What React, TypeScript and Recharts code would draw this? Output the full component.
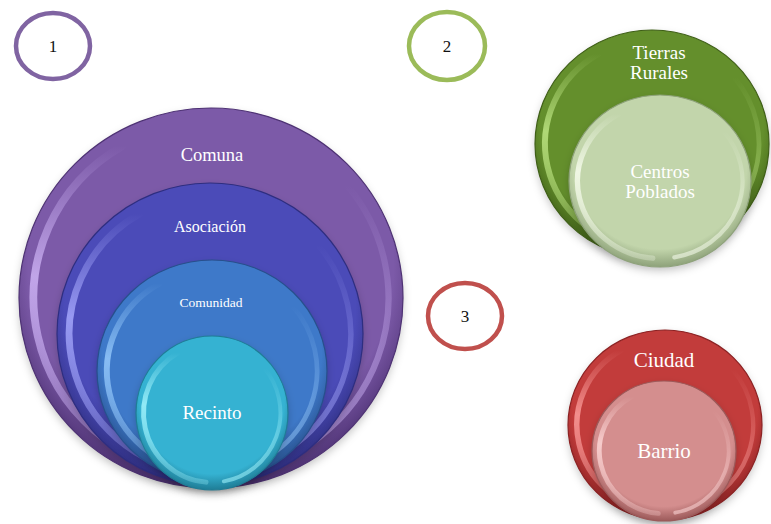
import { Scatter, ScatterChart, XAxis, YAxis, ZAxis } from 'recharts'

const W = 771
const H = 524
const SERIF = '"Liberation Serif", "DejaVu Serif", serif'

// nested discs, outer first so inner ones paint on top
const circleNames = ['Comuna', 'Asociación', 'Comunidad', 'Recinto', 'Tierras Rurales', 'Centros Poblados', 'Ciudad', 'Barrio']
const circleX = [211, 210, 212, 212, 652, 660, 665, 664]
const circleY = [298, 334, 371, 413, 144, 181, 425, 451]
const circleR = [192, 153, 115, 76, 117, 91, 97, 72]
const circleRy = [190, 151, 111, 77, 114, 86, 95, 70]

// text inside the discs
const labelLines = [['Comuna'], ['Asociación'], ['Comunidad'], ['Recinto'], ['Tierras', 'Rurales'], ['Centros', 'Poblados'], ['Ciudad'], ['Barrio']]
const labelX = [212, 210, 211, 212, 659, 660, 664, 664]
const labelY = [155, 226, 302, 412, 62, 181, 360, 451]

// numbered outline markers
const markerLabels = ['1', '2', '3']
const markerX = [53, 447, 465]
const markerY = [46, 46, 316]
const markerR = [37, 38, 37]
const markerRy = [33, 34, 33]

const BASE = ['#7c5aa8', '#4b4bb8', '#3e79c9', '#35b2d2', '#648f2c', '#c2d5ab', '#c23c3b', '#d48e8e']
const LIGHT = ['#c8adf0', '#a0a2f8', '#90c4f8', '#9cf0fa', '#b8e07e', '#f4faea', '#f89896', '#fad2d2']
const DARK = ['#4e3274', '#2e2e80', '#27508c', '#1f7d96', '#3f5f17', '#8ea27a', '#8c2223', '#9c5a5a']
const LABEL_SIZE = [18.5, 16, 13.5, 19, 19, 19, 21, 21]
const MARKER_COLORS = ['#8064a2', '#9bbb59', '#c0504d']

const discs = circleNames.map((name, i) => ({ name, i, x: circleX[i], y: circleY[i], r: circleR[i], ry: circleRy[i] }))
const labels = labelLines.map((lines, i) => ({ lines, i, x: labelX[i], y: labelY[i] }))
const markers = markerLabels.map((text, i) => ({ text, i, x: markerX[i], y: markerY[i], r: markerR[i], ry: markerRy[i] }))

function arc(cx: number, cy: number, rx: number, ry: number, a1: number, a2: number) {
  const t1 = (a1 * Math.PI) / 180
  const t2 = (a2 * Math.PI) / 180
  const x1 = cx + rx * Math.cos(t1)
  const y1 = cy + ry * Math.sin(t1)
  const x2 = cx + rx * Math.cos(t2)
  const y2 = cy + ry * Math.sin(t2)
  const large = a2 - a1 > 180 ? 1 : 0
  return `M${x1},${y1} A${rx},${ry} 0 ${large} 1 ${x2},${y2}`
}

function Disc(props: any) {
  const { cx, cy, size, payload } = props
  const i = payload.i
  const rx = size
  const ry = (size * payload.ry) / payload.r
  const inset = 3 + rx * 0.06
  const sw = 3 + rx * 0.025
  return (
    <g>
      <ellipse cx={cx} cy={cy + 4} rx={rx} ry={ry} fill="rgba(0,0,0,0.22)" filter="url(#soft)" />
      <ellipse cx={cx} cy={cy} rx={rx} ry={ry} fill={`url(#fill${i})`} stroke={DARK[i]} strokeWidth={1.2} />
      <path d={arc(cx, cy, rx - inset, ry - inset, 95, 240)} fill="none" stroke={`url(#shineL${i})`} strokeWidth={sw} strokeLinecap="round" />
      <path d={arc(cx, cy, rx - inset, ry - inset, -40, 80)} fill="none" stroke={`url(#shineR${i})`} strokeWidth={sw * 0.8} strokeLinecap="round" />
    </g>
  )
}

function Marker(props: any) {
  const { cx, cy, size, payload } = props
  const i = payload.i
  const ry = (size * payload.ry) / payload.r
  return (
    <g>
      <ellipse cx={cx} cy={cy} rx={size} ry={ry} fill="none" stroke={MARKER_COLORS[i]} strokeWidth={4.5} />
      <text x={cx} y={cy} textAnchor="middle" dominantBaseline="central" fontFamily={SERIF} fontSize={17} fill="#111">
        {payload.text}
      </text>
    </g>
  )
}

function Label(props: any) {
  const { cx, cy, payload } = props
  const fs = LABEL_SIZE[payload.i]
  const lh = fs * 1.1
  const lines: string[] = payload.lines
  const top = cy - ((lines.length - 1) * lh) / 2
  return (
    <text textAnchor="middle" fontFamily={SERIF} fontSize={fs} fill="#ffffff" dominantBaseline="central">
      {lines.map((t, k) => (
        <tspan key={k} x={cx} y={top + k * lh}>
          {t}
        </tspan>
      ))}
    </text>
  )
}

export default function App() {
  return (
    <div style={{ position: 'absolute', left: 0, top: 0, width: W, height: H, background: '#fff' }}>
      <ScatterChart width={W} height={H} margin={{ top: 0, right: 0, bottom: 0, left: 0 }}>
        <defs>
          <filter id="soft" x="-20%" y="-20%" width="140%" height="140%">
            <feGaussianBlur stdDeviation="4" />
          </filter>
          {BASE.map((c, i) => (
            <radialGradient key={`f${i}`} id={`fill${i}`} cx="50%" cy="42%" r="58%">
              <stop offset="0%" stopColor={c} />
              <stop offset="82%" stopColor={c} />
              <stop offset="100%" stopColor={DARK[i]} />
            </radialGradient>
          ))}
          {LIGHT.map((c, i) => (
            <linearGradient key={`sl${i}`} id={`shineL${i}`} x1="0" y1="0" x2="0" y2="1">
              <stop offset="0%" stopColor={c} stopOpacity={0} />
              <stop offset="40%" stopColor={c} stopOpacity={0.9} />
              <stop offset="100%" stopColor={c} stopOpacity={0.3} />
            </linearGradient>
          ))}
          {LIGHT.map((c, i) => (
            <linearGradient key={`sr${i}`} id={`shineR${i}`} x1="0" y1="0" x2="0" y2="1">
              <stop offset="0%" stopColor={c} stopOpacity={0} />
              <stop offset="60%" stopColor={c} stopOpacity={0.45} />
              <stop offset="100%" stopColor={c} stopOpacity={0.6} />
            </linearGradient>
          ))}
        </defs>
        <XAxis type="number" dataKey="x" domain={[0, W]} hide allowDataOverflow />
        <YAxis type="number" dataKey="y" domain={[0, H]} reversed hide allowDataOverflow />
        <ZAxis type="number" dataKey="r" domain={[0, W]} range={[0, W]} />
        <Scatter data={markers} shape={Marker} isAnimationActive={false} />
        <Scatter data={discs} shape={Disc} isAnimationActive={false} />
        <Scatter data={labels} shape={Label} isAnimationActive={false} />
      </ScatterChart>
    </div>
  )
}
